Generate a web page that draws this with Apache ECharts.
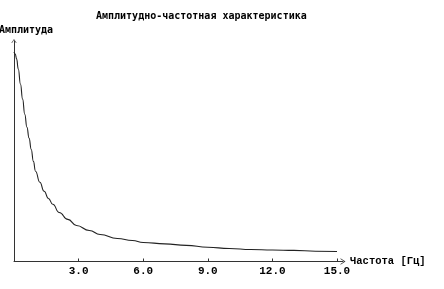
<!DOCTYPE html>
<html>
<head>
<meta charset="utf-8">
<style>html,body{margin:0;padding:0;background:#fff}#c{width:444px;height:289px}</style>
<script src="https://cdn.jsdelivr.net/npm/echarts@6/dist/echarts.min.js"></script>
</head>
<body>
<div id="c"></div>
<script>
var titleText = 'Амплитудно-частотная характеристика';
var yName = 'Амплитуда';
var xName = 'Частота [Гц]';
var freq = [0, 0.06, 0.12, 0.2, 0.3, 0.4, 0.5, 0.6, 0.7, 0.8, 0.9, 1.0, 1.2, 1.4, 1.6, 1.8, 2.1, 2.5, 2.9, 3.5, 4.0, 4.8, 5.5, 6.0, 7.0, 8.0, 9.0, 10, 11, 12, 13, 14, 15];
var amp = [1.000, 0.990, 0.967, 0.919, 0.847, 0.775, 0.703, 0.641, 0.589, 0.536, 0.478, 0.431, 0.378, 0.335, 0.301, 0.273, 0.234, 0.201, 0.172, 0.148, 0.129, 0.110, 0.100, 0.091, 0.084, 0.077, 0.068, 0.062, 0.057, 0.055, 0.053, 0.049, 0.048];
var xTicks = [3, 6, 9, 12, 15];

var points = freq.map(function (f, i) { return [f, amp[i]]; });
var chevron = 'path://M0,6 L4,0 L8,6 L7,6 L4,1.6 L1,6 Z';
var axisColor = '#333';

var chart = echarts.init(document.getElementById('c'), null, {renderer: 'canvas'});
chart.setOption({
  animation: false,
  backgroundColor: '#fff',
  title: {
    text: titleText,
    left: 96, top: 11, padding: 0,
    textStyle: {fontFamily: 'DejaVu Sans Mono', fontWeight: 'bold', fontSize: 10, color: '#000'}
  },
  grid: [
    {left: 14, right: 107, top: 52, bottom: 27.5, outerBoundsMode: 'none', containLabel: false},
    {left: 14, right: 101, top: 41, bottom: 27.5, outerBoundsMode: 'none', containLabel: false}
  ],
  xAxis: [
    {
      gridIndex: 0, type: 'value', min: 0, max: 15, interval: 3,
      axisLine: {show: false},
      axisTick: {show: true, inside: true, length: 3, lineStyle: {color: axisColor}},
      splitLine: {show: false},
      axisLabel: {
        margin: 4, color: '#000', fontFamily: 'Liberation Mono', fontWeight: 'bold', fontSize: 11,
        formatter: function (v) { return xTicks.indexOf(v) >= 0 ? v.toFixed(1) : ''; }
      }
    },
    {
      gridIndex: 1, type: 'value', min: 0, max: 1,
      name: xName, nameLocation: 'end', nameGap: 7,
      nameTextStyle: {color: '#000', fontFamily: 'Liberation Mono', fontWeight: 'bold', fontSize: 10.5, align: 'left', verticalAlign: 'middle'},
      axisLine: {show: true, symbol: ['none', chevron], symbolSize: [8, 5], lineStyle: {color: axisColor, width: 1}},
      axisTick: {show: false}, axisLabel: {show: false}, splitLine: {show: false}
    }
  ],
  yAxis: [
    {
      gridIndex: 0, type: 'value', min: 0, max: 1,
      axisLine: {show: false}, axisTick: {show: false}, axisLabel: {show: false}, splitLine: {show: false}
    },
    {
      gridIndex: 1, type: 'value', min: 0, max: 1,
      name: yName, nameLocation: 'end', nameGap: 6,
      nameTextStyle: {color: '#000', fontFamily: 'DejaVu Sans Mono', fontWeight: 'bold', fontSize: 10, align: 'center', padding: [0, 0, 0, 24]},
      axisLine: {show: true, symbol: ['none', chevron], symbolSize: [6, 4], lineStyle: {color: axisColor, width: 1}},
      axisTick: {show: false}, axisLabel: {show: false}, splitLine: {show: false}
    }
  ],
  series: [{
    type: 'line', xAxisIndex: 0, yAxisIndex: 0,
    data: points, smooth: 0.5, smoothMonotone: 'x', showSymbol: false, symbol: 'none',
    lineStyle: {color: '#222', width: 1.1}
  }]
});
</script>
</body>
</html>
